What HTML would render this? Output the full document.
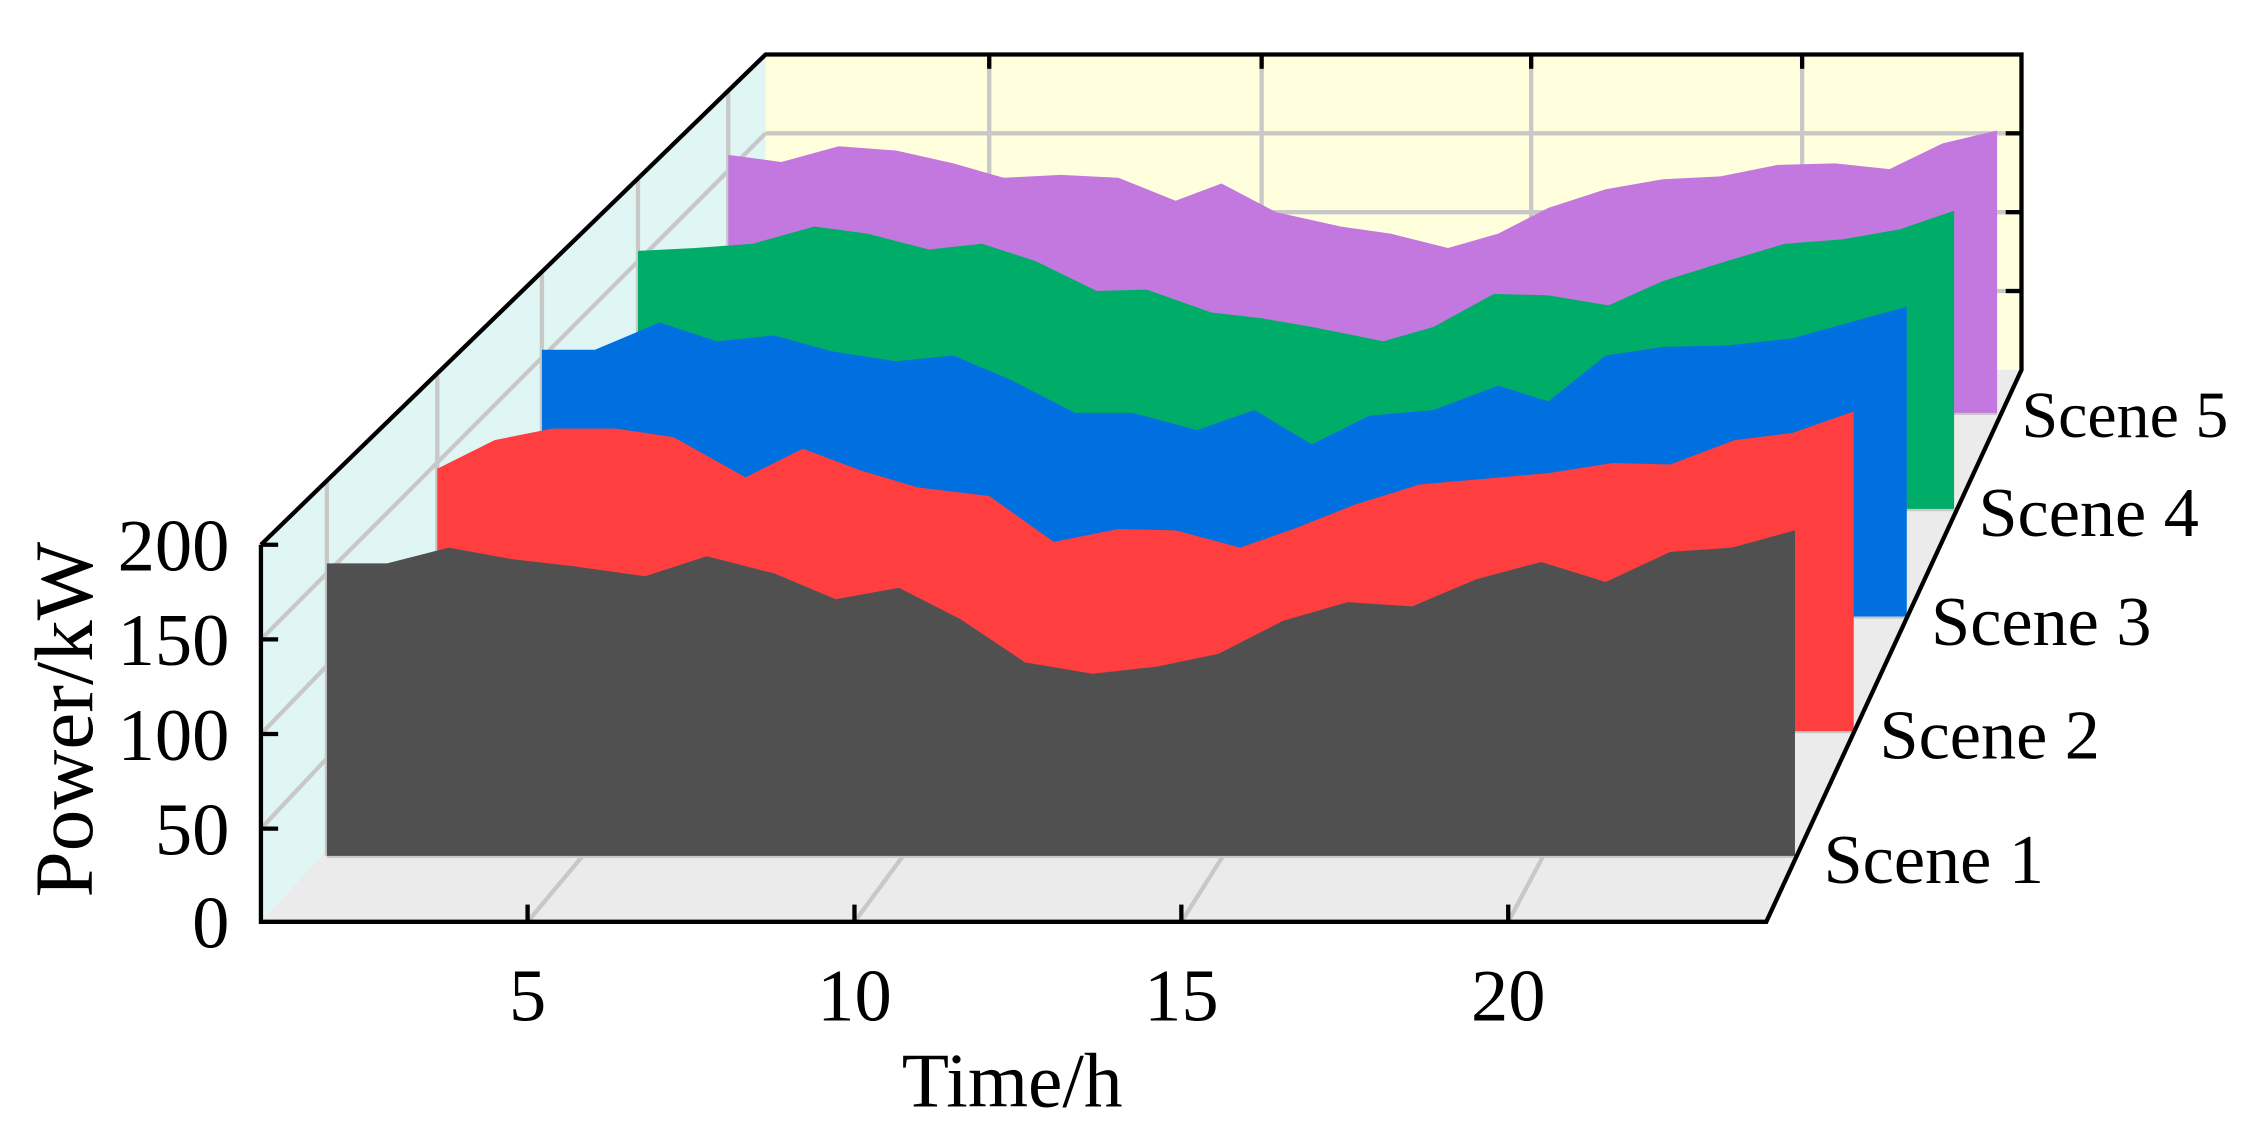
<!DOCTYPE html>
<html><head><meta charset="utf-8"><style>
html,body{margin:0;padding:0;background:#fff;}
svg{display:block;}
text{font-family:"Liberation Serif",serif;fill:#000;}
</style></head><body>
<svg width="2248" height="1144" viewBox="0 0 1568 798" preserveAspectRatio="none" xmlns="http://www.w3.org/2000/svg">
<rect width="1568" height="798" fill="#fff"/>
<polygon points="182,380 534,38 534,258 182,643" fill="#E0F6F4"/>
<polygon points="534,38 1410,38 1410,258 534,258" fill="#FFFFDD"/>
<polygon points="182,643 534,258 1410,258 1232,643" fill="#EBEBEB"/>
<g stroke="#C8C8C8" stroke-width="3" fill="none">
<line x1="534" y1="93" x2="1410" y2="93"/><line x1="534" y1="148" x2="1410" y2="148"/><line x1="534" y1="203" x2="1410" y2="203"/>
<line x1="690" y1="38" x2="690" y2="258"/><line x1="880" y1="38" x2="880" y2="258"/><line x1="1068" y1="38" x2="1068" y2="258"/><line x1="1257" y1="38" x2="1257" y2="258"/>
<line x1="182" y1="578" x2="534" y2="203"/><line x1="182" y1="512" x2="534" y2="148"/><line x1="182" y1="446" x2="534" y2="93"/>
<line x1="228" y1="335" x2="228" y2="597"/><line x1="305" y1="262" x2="305" y2="510"/><line x1="378" y1="191" x2="378" y2="430"/><line x1="445" y1="125" x2="445" y2="355"/><line x1="508" y1="63" x2="508" y2="288"/>
<line x1="368" y1="643" x2="690" y2="258"/><line x1="596" y1="643" x2="880" y2="258"/><line x1="824" y1="643" x2="1068" y2="258"/><line x1="1052" y1="643" x2="1257" y2="258"/>
<line x1="228" y1="597" x2="1253" y2="597"/><line x1="305" y1="510" x2="1294" y2="510"/><line x1="378" y1="430" x2="1330" y2="430"/><line x1="445" y1="355" x2="1363" y2="355"/><line x1="508" y1="288" x2="1393" y2="288"/>
</g>
<polygon fill="#C378E0" points="508,288 508,108 545,113 585,102 625,105 665,114 700,124 740,122 780,124 820,140 852,128 890,148 935,158 970,163 1010,173 1045,163 1080,145 1120,132 1160,125 1200,123 1240,115 1280,114 1318,118 1355,100 1393,91 1393,288"/>
<polygon fill="#00AD68" points="445,355 445,175 485,173 525,170 568,158 605,163 648,174 685,170 722,182 765,203 800,202 845,218 880,222 915,228 965,238 1000,228 1042,205 1080,206 1122,213 1160,196 1205,182 1245,170 1285,167 1325,160 1363,147 1363,355"/>
<polygon fill="#0070E0" points="378,430 378,244 415,244 460,225 500,238 540,234 580,245 625,252 665,248 705,265 750,288 790,288 835,300 875,286 915,310 955,290 1000,286 1045,269 1080,280 1120,248 1160,242 1205,241 1250,236 1290,225 1330,214 1330,430"/>
<polygon fill="#FF3F3F" points="305,510 305,327 345,307 385,299 430,299 470,305 520,333 560,313 600,328 640,340 690,346 735,378 780,369 820,370 865,382 905,368 945,352 990,338 1035,334 1080,330 1125,323 1165,324 1210,307 1250,302 1293,287 1293,510"/>
<polygon fill="#505050" points="228,597 228,393 270,393 313,382 357,390 400,395 450,402 493,388 540,400 583,418 627,410 670,432 715,462 762,470 807,465 850,456 895,433 940,420 985,423 1030,404 1075,392 1120,406 1165,385 1208,382 1252,370 1252,597"/>
<g stroke="#000" stroke-width="3" fill="none">
<polyline points="182,380 182,643 1232,643 1410,258 1410,38 534,38 182,380"/>
<line x1="182" y1="578" x2="194" y2="578"/><line x1="182" y1="512" x2="194" y2="512"/><line x1="182" y1="446" x2="194" y2="446"/><line x1="182" y1="380" x2="194" y2="380"/>
<line x1="368" y1="643" x2="368" y2="631"/><line x1="596" y1="643" x2="596" y2="631"/><line x1="824" y1="643" x2="824" y2="631"/><line x1="1052" y1="643" x2="1052" y2="631"/>
<line x1="1410" y1="93" x2="1399" y2="93"/><line x1="1410" y1="148" x2="1399" y2="148"/><line x1="1410" y1="203" x2="1399" y2="203"/>
<line x1="690" y1="38" x2="690" y2="48"/><line x1="880" y1="38" x2="880" y2="48"/><line x1="1068" y1="38" x2="1068" y2="48"/><line x1="1257" y1="38" x2="1257" y2="48"/>
</g>
<g font-size="52" text-anchor="end">
<text x="160" y="661">0</text><text x="160" y="596">50</text><text x="160" y="530">100</text><text x="160" y="464">150</text><text x="160" y="398">200</text>
</g>
<g font-size="52" text-anchor="middle">
<text x="368" y="712">5</text><text x="596" y="712">10</text><text x="824" y="712">15</text><text x="1052" y="712">20</text>
<text x="706" y="772" font-size="54">Time/h</text>
<text transform="translate(64,502) rotate(-90)" font-size="58">Power/kW</text>
</g>
<g font-size="49">
<text x="1272" y="616">Scene 1</text>
<text x="1311" y="529">Scene 2</text>
<text x="1347" y="450">Scene 3</text>
<text x="1380" y="374">Scene 4</text>
<text x="1410" y="305" font-size="46">Scene 5</text>
</g>
</svg>
</body></html>
